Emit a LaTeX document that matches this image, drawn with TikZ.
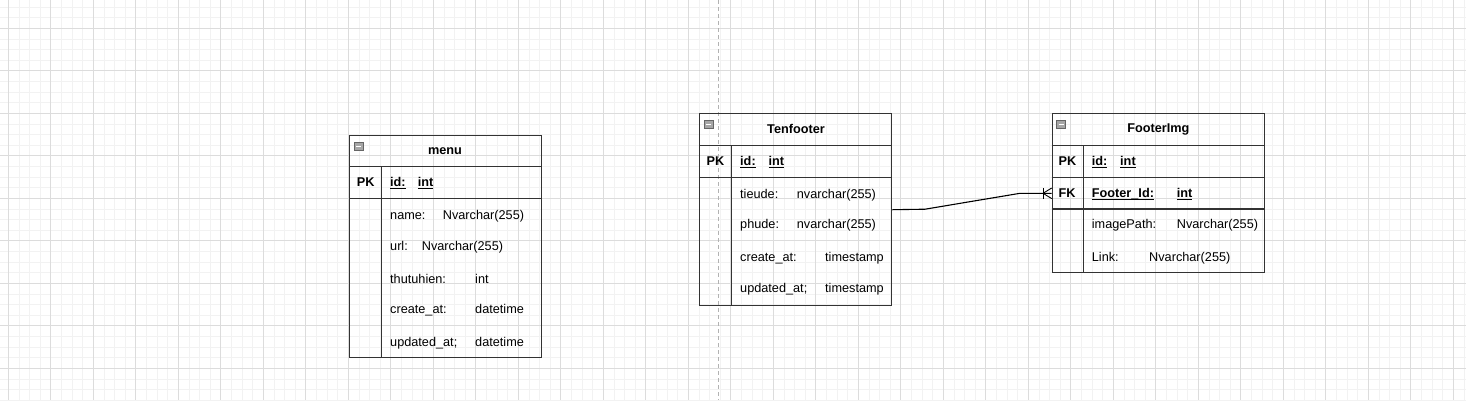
\documentclass[tikz,border=0pt]{standalone}
\usepackage{fontspec}
\setmainfont{Liberation Sans}
\definecolor{gridmin}{HTML}{F2F2F2}
\definecolor{gridmaj}{HTML}{DCDCDC}
\definecolor{tblline}{HTML}{333333}
\tikzset{
  gmin/.style={draw=gridmin, line width=0.8pt},
  gmaj/.style={draw=gridmaj, line width=0.9pt},
  tbl/.style={draw=tblline, line width=1.1pt, inner sep=0pt, anchor=north west},
  sepline/.style={draw=tblline, line width=1.1pt},
  fld/.style={anchor=base west, inner sep=0pt, font=\fontsize{12.7}{15}\selectfont},
  key/.style={fld, font=\fontsize{12.7}{15}\selectfont\bfseries},
  ttl/.style={inner sep=0pt, font=\fontsize{12.7}{15}\selectfont\bfseries},
  icon/.style={draw=black!60, fill=black!35, line width=0.6pt},
  conn/.style={draw=black, line width=1.1pt},
}
\newcommand{\minusicon}[2]{
  \draw[icon] (#1,#2) rectangle ++(9,8); %折りたたみ記号
  \draw[white, line width=0.8pt] (#1+2,#2+4) -- ++(5,0);
}
\newcommand{\keyul}[1]{\underline{\smash{#1}}} %キー項目の下線

\begin{document}
\begin{tikzpicture}[x=1pt,y=-1pt]
\useasboundingbox (0,0) rectangle (1466,400);

%背景のグリッド
\foreach \k in {0,...,137} \draw[gmin] ({8.3+10.625*\k},0) -- ++(0,400);
\foreach \k in {1,...,39} \draw[gmin] (0,{-14.2+10.625*\k}) -- ++(1466,0);
\foreach \k in {0,...,34} \draw[gmaj] ({8.3+42.5*\k},0) -- ++(0,400);
\foreach \k in {1,...,9} \draw[gmaj] (0,{-14.2+42.5*\k}) -- ++(1466,0);

%ページ境界の破線
\draw[draw=black!30, line width=1pt, dash pattern=on 4pt off 3pt] (718.3,0) -- (718.3,400);

%menu
\node[tbl, minimum width=191.4pt, minimum height=222.3pt] (menu) at (349.3,135) {};
\node[ttl] (menuttl) at (445,150.7) {menu};
\minusicon{354.3}{142.3}
\draw[sepline] (349.3,166.7) -- (540.7,166.7);
\draw[sepline] (349.3,198.3) -- (540.7,198.3);
\draw[sepline] (381.3,166.7) -- (381.3,357.3);
\node[key] (menupk) at (356.7,186.8) {PK};
\node[key] (menuid) at (390,186.8) {\keyul{id:}};
\node[key] (menuidt) at (417.7,186.8) {\keyul{int}};
\foreach \y/\n/\tx/\t [count=\i] in {
  219.5/name:/442.7/Nvarchar(255),
  250.2/url:/421.7/Nvarchar(255),
  283.5/thutuhien:/475/int,
  313.8/create\_at:/475/datetime,
  346.2/updated\_at;/475/datetime}
{
  \node[fld] (menuf\i) at (390,\y) {\n};
  \node[fld] (menut\i) at (\tx,\y) {\t};
}

%Tenfooter
\node[tbl, minimum width=192pt, minimum height=191.7pt] (tenfooter) at (699.3,113.3) {};
\node[ttl] (tenttl) at (796,129.3) {Tenfooter};
\minusicon{704}{120}
\draw[sepline] (699.3,145.7) -- (891.3,145.7);
\draw[sepline] (699.3,177.3) -- (891.3,177.3);
\draw[sepline] (731.7,145.7) -- (731.7,305);
\node[key] (tenpk) at (706.5,165.5) {PK};
\node[key] (tenid) at (740,165.5) {\keyul{id:}};
\node[key] (tenidt) at (768.3,165.5) {\keyul{int}};
\foreach \y/\n/\tx/\t [count=\i] in {
  198.8/tieude:/796.7/nvarchar(255),
  228.8/phude:/796.7/nvarchar(255),
  261.2/create\_at:/825/timestamp,
  292.8/updated\_at;/825/timestamp}
{
  \node[fld] (tenf\i) at (740,\y) {\n};
  \node[fld] (tent\i) at (\tx,\y) {\t};
}

%FooterImg
\node[tbl, minimum width=212.3pt, minimum height=159pt] (footerimg) at (1051.7,113.3) {};
\node[ttl] (imgttl) at (1158.3,129.3) {FooterImg};
\minusicon{1056.7}{120}
\draw[sepline] (1051.7,145.7) -- (1264,145.7);
\draw[sepline] (1051.7,177.3) -- (1264,177.3);
\draw[sepline] (1051.7,209) -- (1264,209);
\draw[sepline] (1083.7,145.7) -- (1083.7,272.3);
\node[key] (imgpk) at (1058.5,165.5) {PK};
\node[key] (imgid) at (1091.7,165.5) {\keyul{id:}};
\node[key] (imgidt) at (1120,165.5) {\keyul{int}};
\node[key] (imgfk) at (1058.5,197.8) {FK};
\node[key] (imgfid) at (1091.7,197.8) {\keyul{Footer\_Id:}};
\node[key] (imgfidt) at (1176.7,197.8) {\keyul{int}};
\node[fld] (imgf1) at (1091.7,228.8) {imagePath:};
\node[fld] (imgt1) at (1176.7,228.8) {Nvarchar(255)};
\node[fld] (imgf2) at (1091.7,261.2) {Link:};
\node[fld] (imgt2) at (1149,261.2) {Nvarchar(255)};

%リレーション（1対多）
\coordinate (fk) at (1051.7,193.3);
\draw[conn] (tenfooter.east) -- (925,209.2) -- (1020,193.3) -- (fk);
\draw[conn, line width=0.9pt] (fk) ++(-8.7,0) -- ++(8.7,-5.3);
\draw[conn, line width=0.9pt] (fk) ++(-8.7,0) -- ++(8.7,5.3);
\draw[conn, line width=0.9pt] (fk) ++(-8.7,-5.3) -- ++(0,10.6);
\end{tikzpicture}
\end{document}
